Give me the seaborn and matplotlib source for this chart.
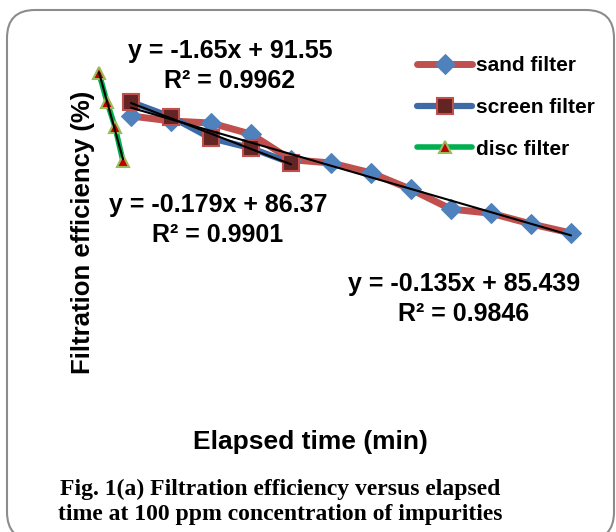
import numpy as np
import pandas as pd
import matplotlib
matplotlib.use("Agg")
import matplotlib.pyplot as plt
from matplotlib.patches import FancyBboxPatch
import seaborn as sns

# ---- data ----
sand_time = [10, 20, 30, 40, 50, 60, 70, 80, 90, 100, 110, 120]
sand_eff = [83.0, 82.4, 82.15, 80.8, 77.7, 77.3, 76.1, 74.1, 71.7, 71.2, 69.9, 68.8]
screen_time = [10, 20, 30, 40, 50]
screen_eff = [84.7, 82.9, 80.3, 79.1, 77.3]
disc_time = [2, 4, 6, 8]
disc_eff = [88.2, 84.7, 81.7, 77.5]
series_labels = ["sand filter", "screen filter", "disc filter"]
eq_texts = ["y = -1.65x + 91.55\nR² = 0.9962",
            "y = -0.179x + 86.37\nR² = 0.9901",
            "y = -0.135x + 85.439\nR² = 0.9846"]

sns.set_theme(style="white")
plt.rcParams["font.family"] = ["Liberation Sans", "DejaVu Sans"]
plt.rcParams["text.color"] = "black"

W, H = 616, 532
fig = plt.figure(figsize=(W / 100, H / 100), dpi=100)

# axes placement in pixels
L, R, T, B = 60, 600, 40, 400
ax = fig.add_axes([L / W, (H - B) / H, (R - L) / W, (B - T) / H])
ax.set_xlim((L - 91) / 4, (R - 91) / 4)
ax.set_ylim(84.58 - (B - 103) / 8.24, 84.58 + (103 - T) / 8.24)

sand_df = pd.DataFrame({"t": sand_time, "e": sand_eff})
screen_df = pd.DataFrame({"t": screen_time, "e": screen_eff})
disc_df = pd.DataFrame({"t": disc_time, "e": disc_eff})

sns.lineplot(data=sand_df, x="t", y="e", ax=ax, color="#C0504D", lw=5,
             marker="D", markersize=10, markerfacecolor="#4F81BD",
             markeredgecolor="#4F81BD", label=series_labels[0], zorder=2)
sns.lineplot(data=screen_df, x="t", y="e", ax=ax, color="#3F6AA5", lw=4.5,
             marker="s", markersize=11, markerfacecolor="#632523",
             markeredgecolor="#C0504D", markeredgewidth=1.5,
             label=series_labels[1], zorder=3)
sns.lineplot(data=disc_df, x="t", y="e", ax=ax, color="#00B050", lw=4,
             marker="^", markersize=9, markerfacecolor="#C00000",
             markeredgecolor="#9BBB59", markeredgewidth=1.5,
             label=series_labels[2], zorder=4)

for df in (sand_df, screen_df, disc_df):
    sns.regplot(data=df, x="t", y="e", ax=ax, scatter=False, ci=None,
                line_kws=dict(color="black", lw=1.5, zorder=6))
ax.axis("off")

leg = ax.legend(loc="upper left", bbox_to_anchor=(407 / W, 1 - 45.5 / H),
                bbox_transform=fig.transFigure, frameon=False,
                prop=dict(weight="bold", size=15), handlelength=2.6,
                labelspacing=1.1, borderpad=0, handletextpad=0.2)

def ftext(x, y, s, **kw):
    fig.text(x / W, 1 - y / H, s, ha="center", va="center", **kw)

ftext(230, 66, eq_texts[0], fontsize=18, fontweight="bold", linespacing=1.3)
ftext(218, 220, eq_texts[1], fontsize=18, fontweight="bold", linespacing=1.3)
ftext(464, 299, eq_texts[2], fontsize=18, fontweight="bold", linespacing=1.3)

ftext(83, 232, "Filtration efficiency (%)", fontsize=18.5, fontweight="bold",
      rotation=90)
ftext(310, 442, "Elapsed time (min)", fontsize=19, fontweight="bold")
ftext(280, 502, "Fig. 1(a) Filtration efficiency versus elapsed\n"
      "time at 100 ppm concentration of impurities",
      fontsize=17, fontweight="bold", family=["Liberation Serif"],
      linespacing=1.25)

# rounded border, in inches (uniform rounding); bottom edge just below the figure
bx0, by_top, bx1, by_bot = 7, 10, 614, 540
border = FancyBboxPatch((bx0 / 100, (H - by_bot) / 100),
                        (bx1 - bx0) / 100, (by_bot - by_top) / 100,
                        boxstyle="round,pad=0,rounding_size=0.28",
                        transform=fig.dpi_scale_trans, fill=False,
                        edgecolor="#8C8C8C", lw=1.5, clip_on=False)
fig.patches.append(border)

fig.savefig("out.png", dpi=100)
